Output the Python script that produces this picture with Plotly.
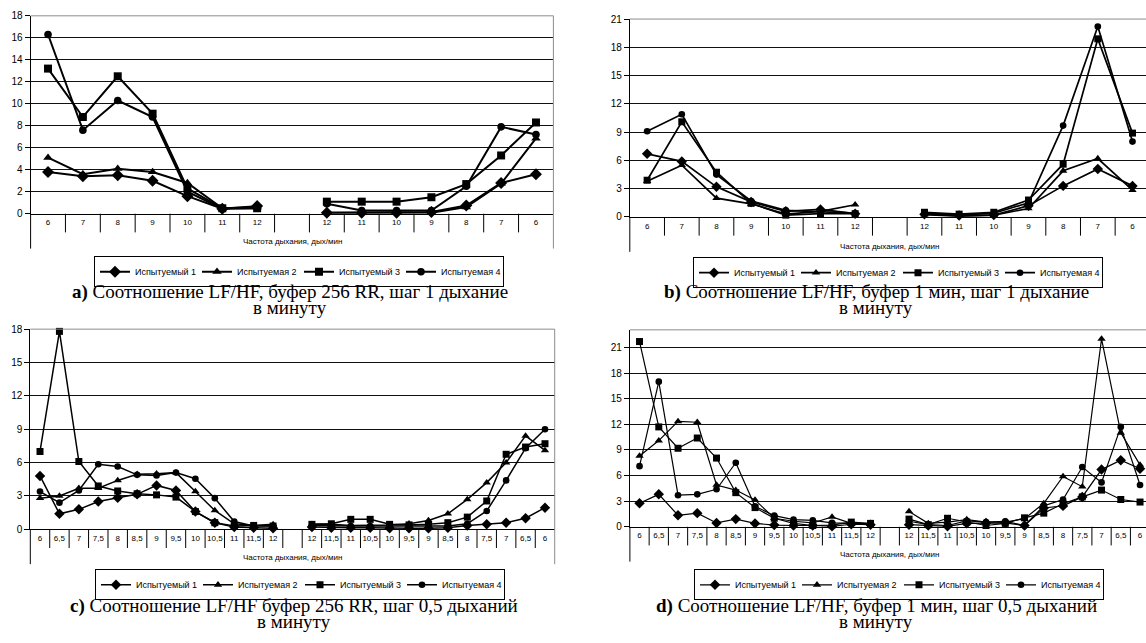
import plotly.graph_objects as go

W, H = 1146, 643

# ---------------- data ----------------
cats_1 = ["6", "7", "8", "9", "10", "11", "12", "",
          "12", "11", "10", "9", "8", "7", "6"]
cats_05 = ["6", "6,5", "7", "7,5", "8", "8,5", "9", "9,5", "10", "10,5", "11", "11,5", "12", "",
           "12", "11,5", "11", "10,5", "10", "9,5", "9", "8,5", "8", "7,5", "7", "6,5", "6"]

names = ["Испытуемый 1", "Испытуемая 2", "Испытуемый 3", "Испытуемая 4"]

# a) buffer 256 RR, step 1
a_s1 = [3.8, 3.4, 3.5, 3.0, 1.6, 0.45, 0.7, None, 0.1, 0.1, 0.1, 0.15, 0.75, 2.8, 3.6]
a_s2 = [5.1, 3.6, 4.1, 3.8, 2.8, 0.5, 0.6, None, 0.1, 0.1, 0.1, 0.1, 0.6, 2.75, 6.85]
a_s3 = [13.2, 8.8, 12.5, 9.1, 2.3, 0.5, 0.5, None, 1.1, 1.1, 1.1, 1.5, 2.7, 5.3, 8.3]
a_s4 = [16.3, 7.6, 10.3, 8.8, 2.0, 0.45, 0.5, None, 0.9, 0.3, 0.3, 0.3, 2.5, 7.9, 7.2]

# b) buffer 1 min, step 1
b_s1 = [6.7, 5.9, 3.2, 1.6, 0.6, 0.8, 0.35, None, 0.3, 0.15, 0.2, 1.2, 3.3, 5.1, 3.3]
b_s2 = [3.8, 5.5, 2.0, 1.4, 0.3, 0.6, 1.3, None, 0.25, 0.1, 0.2, 0.9, 4.9, 6.2, 2.85]
b_s3 = [3.9, 10.1, 4.75, 1.45, 0.2, 0.35, 0.35, None, 0.5, 0.3, 0.5, 1.8, 5.6, 18.9, 8.9]
b_s4 = [9.1, 10.9, 4.5, 1.7, 0.7, 0.55, 0.4, None, 0.4, 0.2, 0.4, 1.5, 9.7, 20.2, 8.0]

# c) buffer 256 RR, step 0.5
c_s1 = [4.8, 1.4, 1.8, 2.5, 2.85, 3.15, 3.95, 3.5, 1.6, 0.6, 0.2, 0.15, 0.1, None,
        0.2, 0.15, 0.15, 0.15, 0.1, 0.1, 0.1, 0.15, 0.35, 0.45, 0.6, 1.0, 1.95]
c_s2 = [2.8, 3.0, 3.7, 3.7, 4.4, 4.95, 5.0, 5.1, 3.4, 1.7, 0.5, 0.35, 0.45, None,
        0.45, 0.45, 0.35, 0.35, 0.4, 0.5, 0.8, 1.4, 2.7, 4.2, 6.0, 8.4, 7.1]
c_s3 = [7.0, 17.8, 6.1, 3.9, 3.45, 3.2, 3.1, 2.9, 1.6, 0.6, 0.3, 0.35, 0.3, None,
        0.45, 0.5, 0.9, 0.9, 0.45, 0.4, 0.45, 0.6, 1.1, 2.55, 6.75, 7.4, 7.7]
c_s4 = [3.4, 2.4, 3.5, 5.85, 5.65, 4.9, 4.85, 5.1, 4.55, 2.8, 0.7, 0.3, 0.3, None,
        0.35, 0.3, 0.3, 0.3, 0.3, 0.3, 0.3, 0.3, 0.5, 1.65, 4.4, 7.3, 9.0]

# d) buffer 1 min, step 0.5
d_s1 = [2.75, 3.8, 1.35, 1.6, 0.45, 0.9, 0.4, 0.2, 0.15, 0.15, 0.05, 0.3, 0.25, None,
        0.25, 0.15, 0.05, 0.4, 0.45, 0.45, 0.15, 2.2, 2.45, 3.5, 6.7, 7.8, 6.8]
d_s2 = [8.3, 10.1, 12.35, 12.25, 4.9, 4.3, 3.15, 1.0, 0.65, 0.45, 1.15, 0.4, 0.35, None,
        1.8, 0.4, 0.55, 0.85, 0.55, 0.55, 0.95, 2.75, 5.9, 4.7, 22.0, 11.0, 7.25]
d_s3 = [21.7, 11.7, 9.2, 10.4, 8.05, 4.0, 2.25, 1.0, 0.4, 0.15, 0.2, 0.55, 0.4, None,
        0.9, 0.25, 1.0, 0.55, 0.15, 0.4, 1.05, 1.6, 2.7, 3.5, 4.3, 3.2, 2.9]
d_s4 = [7.1, 17.0, 3.7, 3.8, 4.4, 7.5, 2.4, 1.3, 0.85, 0.75, 0.45, 0.4, 0.35, None,
        0.65, 0.25, 0.15, 0.7, 0.55, 0.65, 0.15, 2.45, 3.2, 7.0, 5.2, 11.7, 4.9]

captions_l1 = [
    "<b>a)</b> Соотношение LF/HF, буфер 256 RR, шаг 1 дыхание",
    "<b>b)</b> Соотношение LF/HF, буфер 1 мин, шаг 1 дыхание",
    "<b>c)</b> Соотношение LF/HF буфер 256 RR, шаг 0,5 дыханий",
    "<b>d)</b> Соотношение LF/HF, буфер 1 мин, шаг 0,5 дыханий",
]
caption_l2 = "в минуту"
axis_title = "Частота дыхания, дых/мин"

# ---------------- layout geometry (pixels) ----------------
panels = [
    dict(cats=cats_1, series=[a_s1, a_s2, a_s3, a_s4], x0=30.6, x1=553.4, yt=10, yb=211.7,
         yr=[0, 18], dt=2, xend=None, leg=(94, 255), cap=(290, 291, 307), tit=240, lw=2, ms=8),
    dict(cats=cats_1, series=[b_s1, b_s2, b_s3, b_s4], x0=629.8, x1=1146, yt=13.3, yb=215,
         yr=[0, 21], dt=3, xend=14.39, leg=(693, 256), cap=(876, 291, 307), tit=245, lw=1.7, ms=7),
    dict(cats=cats_05, series=[c_s1, c_s2, c_s3, c_s4], x0=30.3, x1=554.7, yt=329.3, yb=533.3,
         yr=[0, 18], dt=3, xend=None, leg=(95, 574), cap=(294, 611, 627), tit=562, lw=1.5, ms=7),
    dict(cats=cats_05, series=[d_s1, d_s2, d_s3, d_s4], x0=629.9, x1=1146, yt=330, yb=530.7,
         yr=[0, 23.07], dt=3, xend=26.31, leg=(694, 574), cap=(876, 611, 627), tit=559, lw=1.2, ms=7),
]

symbols = ["diamond", "triangle-up", "square", "circle"]
sym_size_adj = [1.15, 1.05, 1.0, 0.95]

fig = go.Figure()
shapes = []
annotations = []
layout = dict()

SANS = "Liberation Sans, Arial, sans-serif"
SERIF = "Liberation Serif, Times New Roman, serif"
TICKFONT = dict(family=SANS, size=10, color="black")
XFONT = dict(family=SANS, size=8, color="black")

for p_i, p in enumerate(panels):
    n = p_i + 1
    xa = "xaxis" if n == 1 else f"xaxis{n}"
    ya = "yaxis" if n == 1 else f"yaxis{n}"
    xr = "x" if n == 1 else f"x{n}"
    yr = "y" if n == 1 else f"y{n}"
    lg = "legend" if n == 1 else f"legend{n}"
    N = len(p["cats"])
    xs = list(range(N))
    for s_i, s in enumerate(p["series"]):
        fig.add_trace(go.Scatter(
            x=xs, y=s, mode="lines+markers", name=names[s_i],
            line=dict(color="black", width=p["lw"]),
            marker=dict(symbol=symbols[s_i], size=p["ms"] * sym_size_adj[s_i], color="black"),
            xaxis=xr, yaxis=yr, legend=lg, showlegend=True, cliponaxis=False,
        ))
    ph = p["yb"] - p["yt"]
    xend = p["xend"] if p["xend"] is not None else N - 0.5
    layout[xa] = dict(
        domain=[p["x0"] / W, p["x1"] / W], range=[-0.5, xend], anchor=yr,
        tickvals=xs, ticktext=p["cats"], ticks="outside", ticklen=1, tickcolor="rgba(0,0,0,0)",
        showgrid=False, zeroline=False, showline=True, linecolor="black", linewidth=1,
        tickfont=XFONT, fixedrange=True,
    )
    layout[ya] = dict(
        domain=[1 - p["yb"] / H, 1 - p["yt"] / H], range=p["yr"], anchor=xr,
        tick0=0, dtick=p["dt"], ticks="outside", ticklen=5, tickcolor="black",
        showgrid=True, gridcolor="#111111", gridwidth=1, zeroline=False,
        showline=True, linecolor="black", linewidth=1, tickfont=TICKFONT, fixedrange=True,
    )
    ext = 35.5 / ph   # extension of side lines below axis (domain units)
    sep = 19 / ph     # separator length
    shapes.append(dict(type="line", xref=f"{xr} domain", yref=f"{yr} domain",
                       x0=0, x1=1, y0=1, y1=1, line=dict(color="#8c8c8c", width=1), layer="above"))
    if p["xend"] is None:
        shapes.append(dict(type="line", xref=f"{xr} domain", yref=f"{yr} domain",
                           x0=1, x1=1, y0=-ext, y1=1, line=dict(color="#8c8c8c", width=1), layer="above"))
    shapes.append(dict(type="line", xref=f"{xr} domain", yref=f"{yr} domain",
                       x0=0, x1=0, y0=-ext, y1=0, line=dict(color="black", width=1), layer="above"))
    for i in range(N - 1):
        b = i + 0.5
        if b > xend:
            continue
        shapes.append(dict(type="line", xref=xr, yref=f"{yr} domain",
                           x0=b, x1=b, y0=-sep, y1=0, line=dict(color="black", width=1), layer="above"))
    # axis title (centred under the full category span)
    full_right = p["x0"] + N * (p["x1"] - p["x0"]) / (xend + 0.5)
    annotations.append(dict(text=axis_title, xref="paper", yref="paper",
                            x=((p["x0"] + full_right) / 2) / W,
                            y=1 - p["tit"] / H, xanchor="center", yanchor="middle", showarrow=False,
                            font=dict(family=SANS, size=8, color="black")))
    # caption, two lines
    cx, l1y, l2y = p["cap"]
    annotations.append(dict(text=captions_l1[p_i], xref="paper", yref="paper",
                            x=cx / W, y=1 - l1y / H, xanchor="center", yanchor="middle",
                            showarrow=False, font=dict(family=SERIF, size=19, color="black")))
    annotations.append(dict(text=caption_l2, xref="paper", yref="paper",
                            x=cx / W, y=1 - l2y / H, xanchor="center", yanchor="middle",
                            showarrow=False, font=dict(family=SERIF, size=19, color="black")))
    layout[lg] = dict(
        orientation="h", x=p["leg"][0] / W, y=1 - p["leg"][1] / H, xanchor="left", yanchor="top",
        bordercolor="black", borderwidth=1, bgcolor="white",
        font=dict(family=SANS, size=9, color="black"),
        itemwidth=30, entrywidth=57, entrywidthmode="pixels",
        tracegroupgap=0, itemclick=False, itemdoubleclick=False,
    )

fig.update_layout(
    width=W, height=H, margin=dict(l=0, r=0, t=0, b=0),
    paper_bgcolor="white", plot_bgcolor="white",
    shapes=shapes, annotations=annotations, **layout,
)

fig.write_html("out.html", include_plotlyjs=True, config={"displayModeBar": False},
               post_script="document.body.style.margin='0px';document.body.style.overflow='hidden';")
